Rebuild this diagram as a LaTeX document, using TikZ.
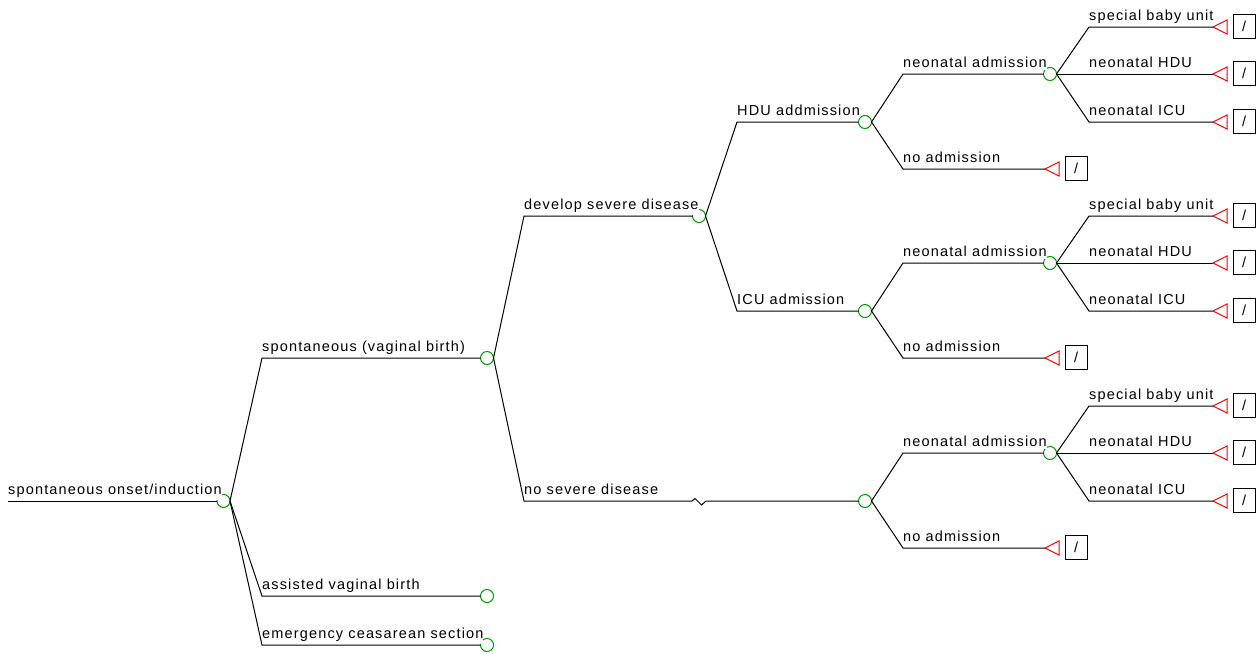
\documentclass[tikz,border=0pt]{standalone}
\usepackage{fontspec}
\setmainfont{Liberation Sans}[LetterSpace=8]
\usetikzlibrary{calc}
\tikzset{
  ln/.style={line width=1pt, draw=black},
  chance/.style={circle, draw=green!60!black, line width=1pt, minimum size=13pt, inner sep=0pt, outer sep=0pt},
  lbl/.style={anchor=base west, inner xsep=0pt, inner ysep=2.5pt, fill=white, font=\fontsize{14.5}{16}\selectfont},
  tri/.style={draw=red, line width=1pt},
  pbox/.style={draw=black, line width=1pt, minimum width=22pt, minimum height=24pt, inner sep=0pt, font=\fontsize{14.5}{16}\selectfont},
}
\begin{document}
\begin{tikzpicture}[x=1pt, y=-1pt]
\useasboundingbox (0,0) rectangle (1260,653);
% root
\coordinate (r) at (8,501);
\node[chance] (c0) at (223.5,501) {};
\draw[ln] (r) -- (c0.west);
% level 1
\coordinate (k1) at (262,358); \node[chance] (c1) at (487,358) {};
\coordinate (k2) at (262,596); \node[chance] (c2) at (487,596) {};
\coordinate (k3) at (262,645); \node[chance] (c3) at (487,645) {};
\draw[ln] (c0.east) -- (k1) -- (c1.west);
\draw[ln] (c0.east) -- (k2) -- (c2.west);
\draw[ln] (c0.east) -- (k3) -- (c3.west);
% level 2
\coordinate (k11) at (524,216); \node[chance] (c11) at (699,216) {};
\coordinate (k12) at (524,501); \node[chance] (c12) at (865,501) {};
\coordinate (z1) at (692,501); \coordinate (z2) at (695,498.5);
\coordinate (z3) at (701.5,505); \coordinate (z4) at (706,501);
\draw[ln] (c1.east) -- (k11) -- (c11.west);
\draw[ln] (c1.east) -- (k12) -- (z1) -- (z2) -- (z3) -- (z4) -- (c12.west);
% level 3
\coordinate (k111) at (737,122); \node[chance] (c111) at (865,122) {};
\coordinate (k112) at (737,311); \node[chance] (c112) at (865,311) {};
\draw[ln] (c11.east) -- (k111) -- (c111.west);
\draw[ln] (c11.east) -- (k112) -- (c112.west);
% levels 4 and 5
\foreach \p/\y/\g in {c111/122/a, c112/311/b, c12/501/c} {
  \pgfmathsetmacro\ya{\y-48}
  \pgfmathsetmacro\yn{\y+47}
  \pgfmathsetmacro\ys{\y-95}
  \coordinate (\g k1) at (903,\ya);
  \node[chance] (\g n) at (1050,\ya) {};
  \coordinate (\g k2) at (903,\yn);
  \coordinate (\g t0) at (1045,\yn);
  \draw[ln] (\p.east) -- (\g k1) -- (\g n.west);
  \draw[ln] (\p.east) -- (\g k2) -- (\g t0);
  \draw[tri] (\g t0) -- ++(14,-7) -- ++(0,14) -- cycle;
  \node[pbox] (\g b0) at ($(\g t0)+(31,-1)$) {/};
  \coordinate (\g s1) at (1089,\ys);
  \coordinate (\g s3) at (1089,\y);
  \coordinate (\g u1) at (1213,\ys);
  \coordinate (\g u2) at (1213,\ya);
  \coordinate (\g u3) at (1213,\y);
  \draw[ln] (\g n.east) -- (\g s1) -- (\g u1);
  \draw[ln] (\g n.east) -- (\g u2);
  \draw[ln] (\g n.east) -- (\g s3) -- (\g u3);
  \foreach \i in {1,2,3} {
    \draw[tri] (\g u\i) -- ++(14,-7) -- ++(0,14) -- cycle;
    \node[pbox] (\g b\i) at ($(\g u\i)+(31,-1)$) {/};
  }
  \node[lbl] (\g L1) at ($(\g k1)+(0,-7)$) {neonatal admission};
  \node[lbl] (\g L2) at ($(\g k2)+(0,-7)$) {no admission};
  \node[lbl] (\g L3) at ($(\g s1)+(0,-7)$) {special baby unit};
  \node[lbl] (\g L4) at (1089,\ya-7) {neonatal HDU};
  \node[lbl] (\g L5) at ($(\g s3)+(0,-7)$) {neonatal ICU};
}
% labels
\node[lbl] (L0) at ($(r)+(0,-7)$) {spontaneous onset/induction};
\node[lbl] (L1) at ($(k1)+(0,-7)$) {spontaneous (vaginal birth)};
\node[lbl] (L2) at ($(k2)+(0,-7)$) {assisted vaginal birth};
\node[lbl] (L3) at ($(k3)+(0,-7)$) {emergency ceasarean section};
\node[lbl] (L11) at ($(k11)+(0,-7)$) {develop severe disease};
\node[lbl] (L12) at ($(k12)+(0,-7)$) {no severe disease};
\node[lbl] (L111) at ($(k111)+(0,-7)$) {HDU addmission};
\node[lbl] (L112) at ($(k112)+(0,-7)$) {ICU admission};
\end{tikzpicture}
\end{document}
